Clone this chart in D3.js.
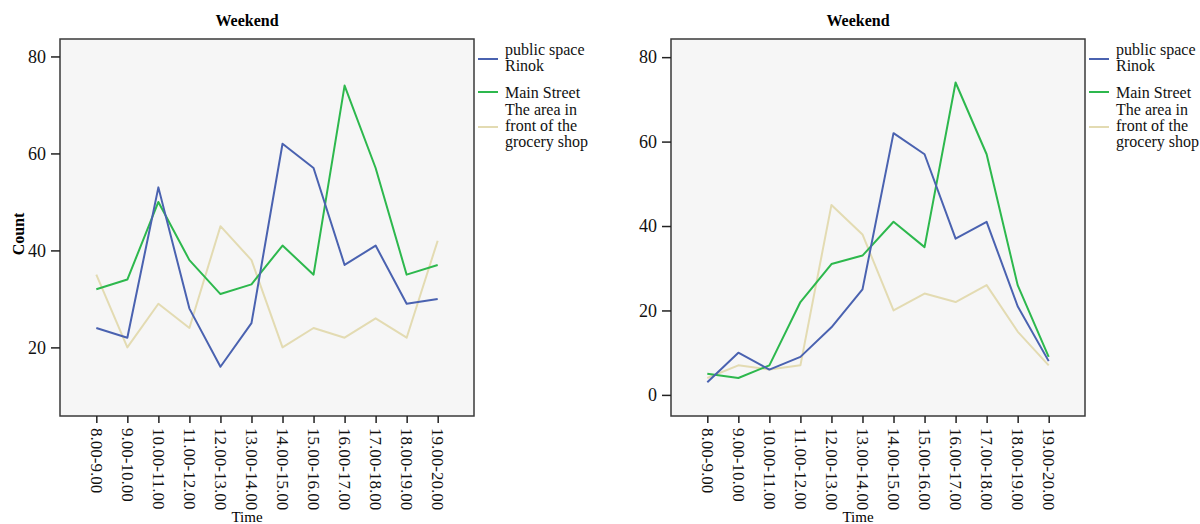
<!DOCTYPE html>
<html>
<head>
<meta charset="utf-8">
<script src="https://cdn.jsdelivr.net/npm/d3@7"></script>
<style>
  body { margin: 0; background: #fff; }
  svg { font-family: "Liberation Serif", "Times New Roman", serif; }
</style>
</head>
<body>
<svg id="chart" width="1200" height="524"></svg>
<script>
// time slots on the x axis
var timeSlots = ["8.00-9.00", "9.00-10.00", "10.00-11.00", "11.00-12.00", "12.00-13.00",
                 "13.00-14.00", "14.00-15.00", "15.00-16.00", "16.00-17.00", "17.00-18.00",
                 "18.00-19.00", "19.00-20.00"];

var seriesNames = ["public space Rinok", "Main Street", "The area in front of the grocery shop"];
var legendLines = [["public space", "Rinok"], ["Main Street"], ["The area in", "front of the", "grocery shop"]];
var seriesColors = ["#4a62b0", "#2db84d", "#e3dbb2"];

// left panel
var leftRinok   = [24, 22, 53, 28, 16, 25, 62, 57, 37, 41, 29, 30];
var leftMain    = [32, 34, 50, 38, 31, 33, 41, 35, 74, 57, 35, 37];
var leftGrocery = [35, 20, 29, 24, 45, 38, 20, 24, 22, 26, 22, 42];
var leftTicks   = [20, 40, 60, 80];

// right panel
var rightRinok   = [3, 10, 6, 9, 16, 25, 62, 57, 37, 41, 21, 8];
var rightMain    = [5, 4, 7, 22, 31, 33, 41, 35, 74, 57, 26, 9];
var rightGrocery = [4, 7, 6, 7, 45, 38, 20, 24, 22, 26, 15, 7];
var rightTicks   = [0, 20, 40, 60, 80];

var svg = d3.select("#chart");

function drawPanel(opt) {
  var g = svg.append("g");

  var x = d3.scalePoint()
    .domain(timeSlots)
    .range([opt.left, opt.right])
    .padding(1.17);

  var y = d3.scaleLinear()
    .domain(opt.yDomain)
    .range([opt.bottom, opt.top]);

  // plot background + frame
  g.append("rect")
    .attr("x", opt.left).attr("y", opt.top)
    .attr("width", opt.right - opt.left).attr("height", opt.bottom - opt.top)
    .attr("fill", "#f6f6f6")
    .attr("stroke", "#3a3a3a")
    .attr("stroke-width", 1.5);

  // y axis
  var yAxis = g.append("g")
    .attr("transform", "translate(" + opt.left + ",0)")
    .call(d3.axisLeft(y).tickValues(opt.ticks).tickSize(9).tickPadding(5));
  yAxis.select(".domain").remove();
  yAxis.selectAll("line").attr("stroke", "#222").attr("stroke-width", 1.5);
  yAxis.selectAll("text")
    .attr("font-family", "Liberation Serif, serif")
    .attr("font-size", 18).attr("fill", "#111");

  // x axis
  var xAxis = g.append("g")
    .attr("transform", "translate(0," + opt.bottom + ")")
    .call(d3.axisBottom(x).tickSize(7).tickPadding(4));
  xAxis.select(".domain").remove();
  xAxis.selectAll("line").attr("stroke", "#222").attr("stroke-width", 1.5);
  xAxis.selectAll("text")
    .attr("font-family", "Liberation Serif, serif")
    .attr("font-size", 17).attr("fill", "#111")
    .attr("text-anchor", "start")
    .attr("dy", "0.35em")
    .attr("transform", "translate(0,12) rotate(90)")
    .attr("x", 0).attr("y", 0);

  // lines
  var line = d3.line()
    .x(function(d, i) { return x(timeSlots[i]); })
    .y(function(d) { return y(d); });

  // draw grocery first, then main, then rinok on top
  [2, 1, 0].forEach(function(k) {
    g.append("path")
      .datum(opt.series[k])
      .attr("d", line)
      .attr("fill", "none")
      .attr("stroke", seriesColors[k])
      .attr("stroke-width", 2)
      .attr("stroke-linejoin", "round");
  });

  // title
  g.append("text")
    .attr("x", (opt.left + opt.right) / 2 - 20).attr("y", 26)
    .attr("text-anchor", "middle")
    .attr("font-size", 16).attr("font-weight", "bold")
    .text("Weekend");

  // x label
  g.append("text")
    .attr("x", (opt.left + opt.right) / 2 - 20).attr("y", 522)
    .attr("text-anchor", "middle")
    .attr("font-size", 15)
    .text("Time");

  if (opt.yLabel) {
    g.append("text")
      .attr("transform", "translate(24," + 234 + ") rotate(-90)")
      .attr("text-anchor", "middle")
      .attr("font-size", 16).attr("font-weight", "bold")
      .text(opt.yLabel);
  }

  // legend
  var lx = opt.right + 4;
  var rows = [[49, 65], [92], [109, 125, 141]];
  var markY = [59, 92, 127];
  legendLines.forEach(function(lines, k) {
    g.append("line")
      .attr("x1", lx).attr("x2", lx + 20)
      .attr("y1", markY[k]).attr("y2", markY[k])
      .attr("stroke", seriesColors[k]).attr("stroke-width", 2);
    lines.forEach(function(t, j) {
      g.append("text")
        .attr("x", lx + 27)
        .attr("y", rows[k][j])
        .attr("dy", "0.35em")
        .attr("font-size", 16)
        .attr("fill", "#111")
        .text(t);
    });
  });
}

drawPanel({
  left: 60, right: 474, top: 39, bottom: 416,
  yDomain: [5.85, 83.6], ticks: leftTicks,
  series: [leftRinok, leftMain, leftGrocery],
  yLabel: "Count"
});

drawPanel({
  left: 671, right: 1085, top: 39, bottom: 416,
  yDomain: [-5, 84.3], ticks: rightTicks,
  series: [rightRinok, rightMain, rightGrocery]
});
</script>
</body>
</html>
